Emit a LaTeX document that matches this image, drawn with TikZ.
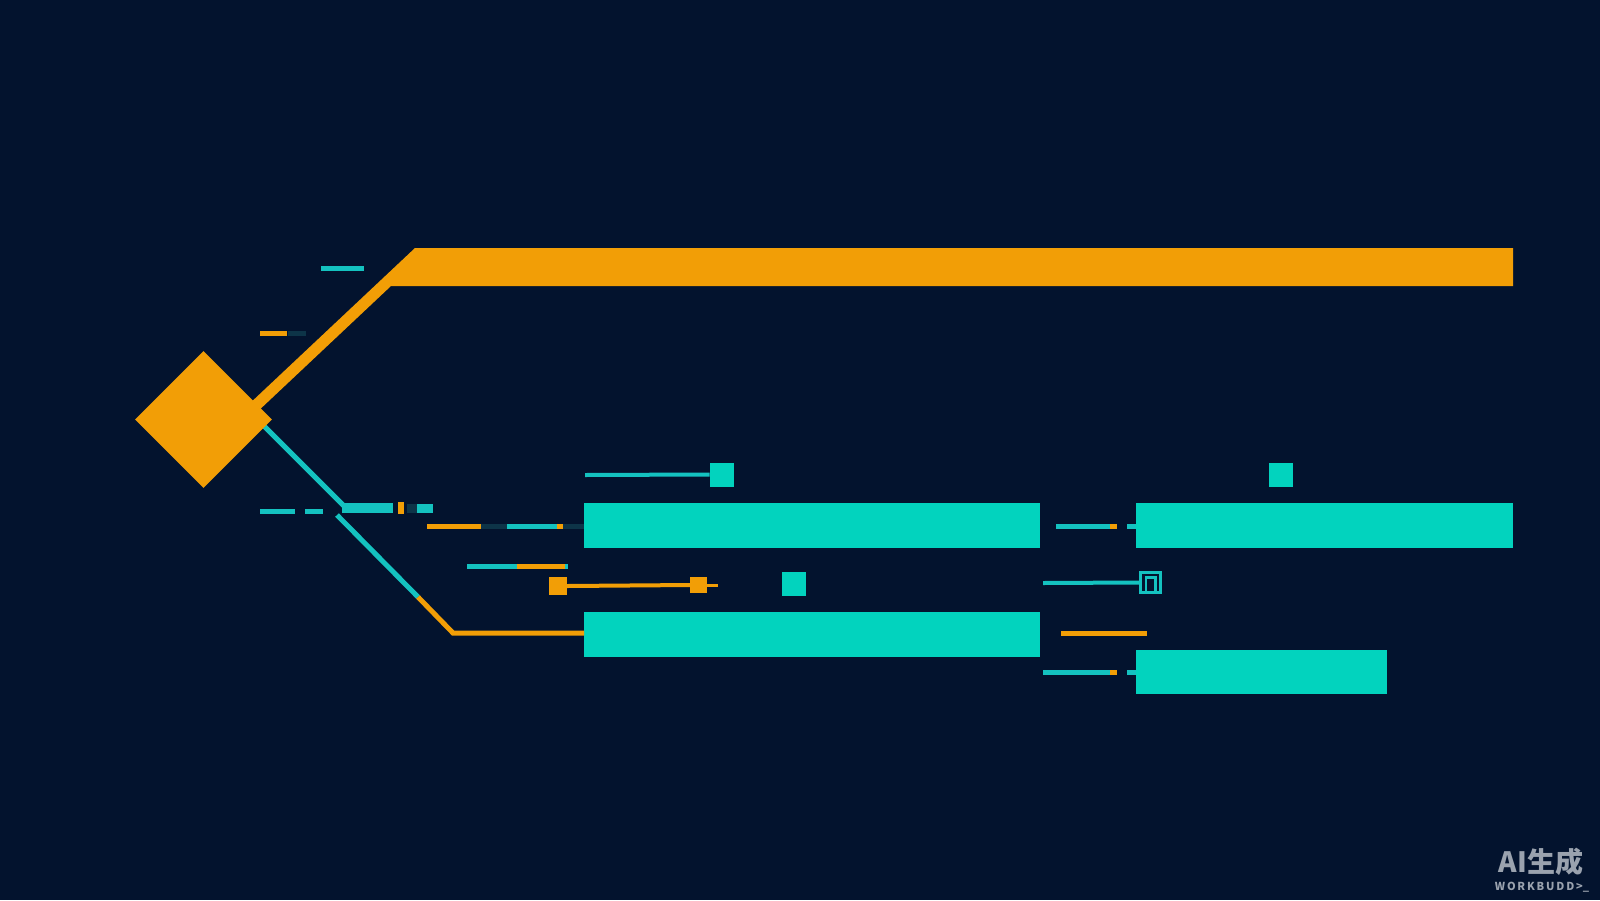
\documentclass[tikz,border=0pt]{standalone}
\usetikzlibrary{shapes.geometric}
\usepackage{fontspec}
\newfontfamily\cjk{Noto Sans CJK SC}
\definecolor{bg}{HTML}{03132E}
\definecolor{org}{HTML}{F29E06}
\definecolor{cy}{HTML}{02D3BE}
\definecolor{cyl}{HTML}{14C2C0}
\definecolor{dk}{HTML}{0D3448}
\definecolor{wm}{HTML}{9AA2AE}
\begin{document}
\begin{tikzpicture}[x=1pt,y=-1pt,
  bar/.style={rectangle,fill=cy,draw=none,inner sep=0pt,outer sep=0pt},
  sqr/.style={rectangle,fill=cy,draw=none,inner sep=0pt,outer sep=0pt,minimum width=24pt,minimum height=24pt},
  cln/.style={line width=5pt,draw=cyl},
  oln/.style={line width=5pt,draw=org},
  dln/.style={line width=5pt,draw=dk}]
\useasboundingbox (0,0) rectangle (1600,900);
\fill[bg] (0,0) rectangle (1600,900);

% orange top band
\fill[org] (247,406) -- (415,248) -- (1513,248) -- (1513,286) -- (391,286) -- (255,414) -- cycle;

% cyan diagonal 1 and second diagonal
\coordinate (d1a) at (258,420);
\coordinate (d1b) at (344,506);
\coordinate (d2a) at (337,515);
\coordinate (d2b) at (418,597);
\coordinate (d2c) at (453,633);
\draw[cln] (d1a) -- (d1b);
\draw[cln] (d2a) -- (d2b);

% diamond
\node[diamond,fill=org,draw=none,minimum width=137pt,minimum height=137pt,inner sep=0pt] (dia) at (203.5,419.5) {};

% small dashes upper left
\draw[cln] (321,268) -- (364,268);
\draw[oln] (260,333) -- (287,333);
\draw[dln] (288,333) -- (306,333);

% dashed cyan line
\draw[cln] (260,511) -- (295,511);
\draw[cln] (305,511) -- (323,511);

% thick cyan segment row
\fill[cyl] (342,503) rectangle (393,513);
\fill[org] (398,502) rectangle (404,514);
\fill[dk] (407,504) rectangle (417,513);
\fill[cyl] (417,504) rectangle (433,513);

% bars
\node[bar,minimum width=456pt,minimum height=45pt] (bar1) at (812,525.5) {};
\node[bar,minimum width=456pt,minimum height=45pt] (bar2) at (812,634.5) {};
\node[bar,minimum width=377pt,minimum height=45pt] (bar3) at (1324.5,525.5) {};
\node[bar,minimum width=251pt,minimum height=44pt] (bar4) at (1261.5,672) {};

% squares
\node[sqr] (sq1) at (721.5,474.5) {};
\node[sqr] (sq2) at (793.5,584) {};
\node[sqr] (sq3) at (1281,474.5) {};

% lower diagonal into bar2
\draw[oln,line join=miter] (d2b) -- (d2c) -- (bar2.west |- d2c);

% row y=526 into bar1
\draw[oln] (427,526) -- (481,526);
\draw[dln] (481,526) -- (507,526);
\draw[cln] (507,526) -- (557,526);
\draw[oln] (557,526) -- (563,526);
\draw[dln] (563,526) -- (bar1.west |- 0,526);

% row y=566
\draw[cln] (467,566) -- (517,566);
\draw[oln] (517,566) -- (565,566);
\draw[cln] (565,566) -- (568,566);

% orange slider
\node[rectangle,fill=org,inner sep=0pt,minimum width=18pt,minimum height=18pt] (os1) at (558,586) {};
\node[rectangle,fill=org,inner sep=0pt,minimum width=17pt,minimum height=16pt] (os2) at (698.5,585) {};
\draw[line width=4pt,draw=org] (os1.east) -- (os2.west);
\draw[line width=3pt,draw=org] (os2.east) -- (718,585);

% line to sq1
\draw[line width=4pt,draw=cyl] (585,475) -- (sq1.west);

% right side connectors to bar3
\coordinate (r1a) at (1056,526);
\draw[cln] (r1a) -- (1110,526);
\draw[oln] (1110,526) -- (1117,526);
\draw[cln] (1127,526) -- (bar3.west |- r1a);

% line to outlined square
\node[rectangle,draw=cyl,line width=2.2pt,inner sep=0pt,minimum width=20pt,minimum height=20pt] (osq) at (1150.5,582.5) {};
\draw[line width=4pt,draw=cyl] (1043,583) -- (osq.west);
\draw[line width=2.2pt,draw=cyl] (1146,592) -- (1146,577.5) -- (1155.5,577.5) -- (1155.5,592);

% orange line right
\draw[oln] (1061,633) -- (1147,633);

% connectors to bar4
\coordinate (r2a) at (1043,672);
\draw[cln] (r2a) -- (1110,672);
\draw[oln] (1110,672) -- (1117,672);
\draw[cln] (1127,672) -- (bar4.west |- r2a);

% watermark
\node[text=wm,inner sep=0pt,anchor=center] (wm1) at (1541,862) {\cjk\bfseries\fontsize{28}{28}\selectfont AI生成};
\node[text=wm,inner sep=0pt,anchor=center] (wm2) at (1542,887) {\cjk\bfseries\fontsize{11}{11}\selectfont W\,O\,R\,K\,B\,U\,D\,D\,>\_};
\end{tikzpicture}
\end{document}
